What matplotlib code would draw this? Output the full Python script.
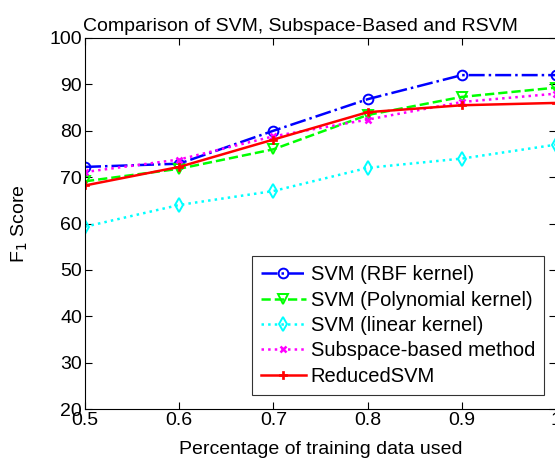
import matplotlib
matplotlib.use("Agg")
import matplotlib.pyplot as plt

plt.rcParams["font.family"] = ["Liberation Sans", "DejaVu Sans"]

# 데이터
train_frac = [0.5, 0.6, 0.7, 0.8, 0.9, 1.0]
svm_rbf = [72.2, 72.9, 80.0, 86.8, 92.0, 92.0]
svm_poly = [69.1, 71.8, 76.0, 83.4, 87.3, 89.3]
svm_linear = [59.3, 64.0, 67.0, 72.0, 74.0, 77.0]
subspace = [71.1, 73.8, 78.8, 82.4, 86.2, 88.0]
reduced_svm = [68.2, 72.2, 78.1, 84.0, 85.5, 86.0]

fig = plt.figure(figsize=(5.55, 4.62), dpi=100)
ax = fig.add_axes([85 / 555, 53 / 462, 471 / 555, 371 / 462])

ax.plot(train_frac, svm_rbf, color="blue", ls="-.", lw=1.8, marker="o",
        ms=7, mfc="none", mew=1.4, label="SVM (RBF kernel)")
ax.plot(train_frac, svm_poly, color="#00ff00", ls="--", lw=1.8, marker="v",
        ms=7, mfc="none", mew=1.4, label="SVM (Polynomial kernel)")
ax.plot(train_frac, svm_linear, color="cyan", ls=":", lw=1.8, marker="d",
        ms=7, mfc="none", mew=1.4, label="SVM (linear kernel)")
ax.plot(train_frac, subspace, color="magenta", ls=":", lw=1.8, marker="x",
        ms=5, mew=1.8, label="Subspace-based method")
ax.plot(train_frac, reduced_svm, color="red", ls="-", lw=1.8, marker="P",
        ms=6, mew=0.5, label="ReducedSVM")

ax.set_xlim(0.5, 1.0)
ax.set_ylim(20, 100)
ax.set_xticks([0.5, 0.6, 0.7, 0.8, 0.9, 1.0])
ax.set_xticklabels(["0.5", "0.6", "0.7", "0.8", "0.9", "1"])
ax.set_yticks(range(20, 101, 10))
ax.tick_params(direction="in", labelsize=14, length=5, pad=2,
               top=True, right=True)
for s in ax.spines.values():
    s.set_linewidth(0.8)

ax.set_xlabel("Percentage of training data used", fontsize=14, labelpad=9)
ax.set_ylabel("F$_1$ Score", fontsize=14, labelpad=14)
ax.set_title("Comparison of SVM, Subspace-Based and RSVM", fontsize=14,
             pad=5, x=(300 - 85) / 471)

leg = ax.legend(loc="lower right", bbox_to_anchor=(1 - 12 / 471, 14 / 371),
                fontsize=14.5, frameon=True, fancybox=False, edgecolor="black",
                handlelength=2.2, borderpad=0.45, labelspacing=0.32,
                handletextpad=0.25, borderaxespad=0)
leg.get_frame().set_linewidth(0.8)

fig.savefig("out.png", dpi=100, facecolor="white")
